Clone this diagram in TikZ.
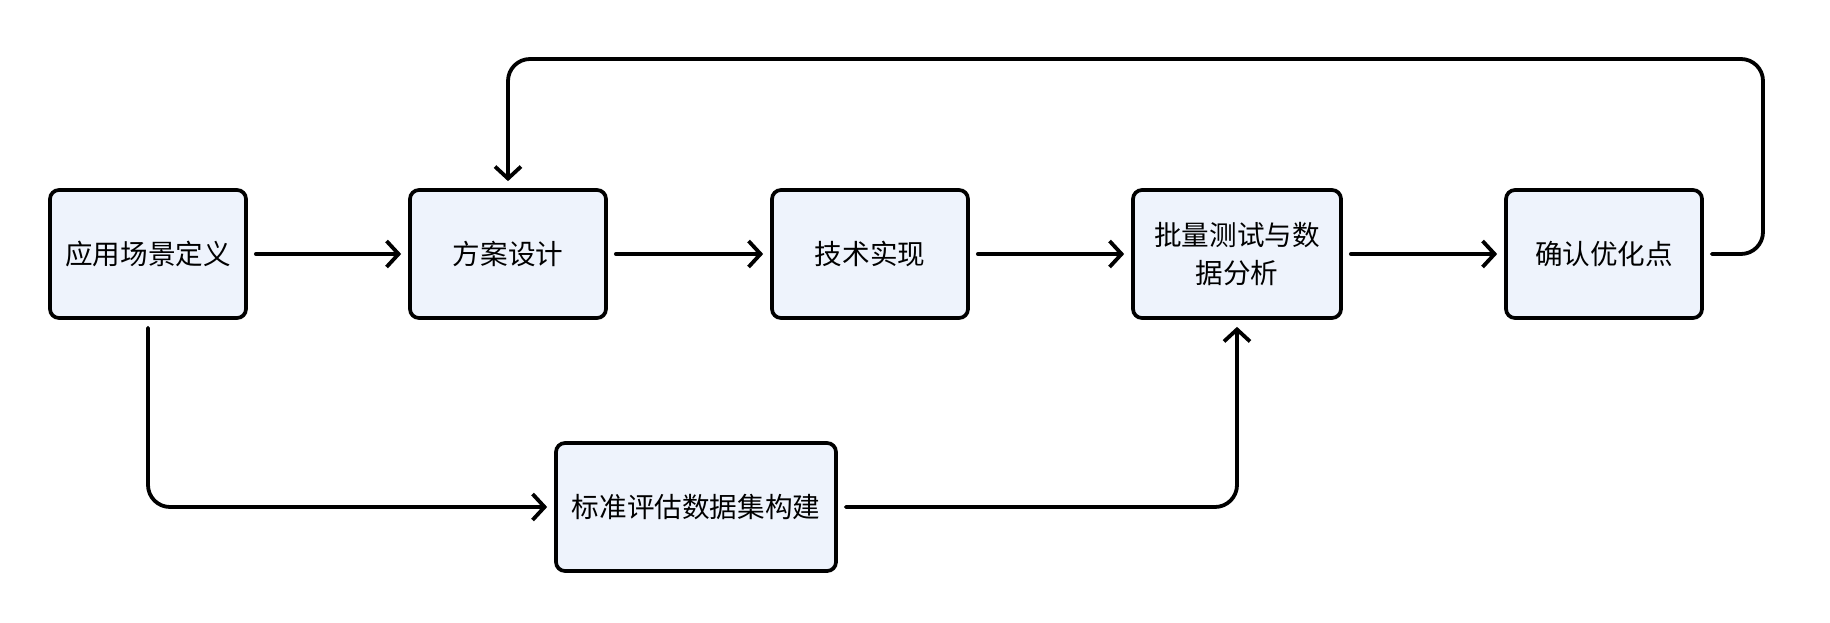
\documentclass[tikz,border=0pt]{standalone}
\usepackage{fontspec}
\setmainfont{Noto Sans CJK SC}
\usetikzlibrary{arrows.meta}
\definecolor{boxfill}{RGB}{238,243,252}
\tikzset{
  etape/.style={draw=black, line width=1.85pt, fill=boxfill, rounded corners=4.5pt,
    minimum width=98pt, minimum height=64pt, align=center, inner sep=2pt,
    font=\fontsize{13.8}{19}\selectfont},
  fleche/.style={draw=black, line width=1.9pt, line cap=round, rounded corners=11pt,
    -{Straight Barb[length=6pt,width=13pt,line width=1.9pt]},
    shorten <=4pt, shorten >=3.5pt},
}
\begin{document}
\begin{tikzpicture}  % ------ Processus d'evaluation -------------------
      [x=0.5pt,y=-0.5pt]

    \useasboundingbox (0,0) rectangle (1830,622);

    \node[etape] (scene) at (148,254) {应用场景定义};
    \node[etape] (plan)  at (508,254) {方案设计};
    \node[etape] (impl)  at (870,254) {技术实现};
    \node[etape, minimum width=104pt] (test) at (1237,254) {批量测试与数\\据分析};
    \node[etape] (optim) at (1604,254) {确认优化点};
    \node[etape, minimum width=140pt] (data) at (696,507) {标准评估数据集构建};

    \coordinate (haut) at (1763,59);

    \draw[fleche] (scene) -- (plan);
    \draw[fleche] (plan) -- (impl);
    \draw[fleche] (impl) -- (test);
    \draw[fleche] (test) -- (optim);
    \draw[fleche] (optim.east) -| (haut) -| (plan.north);  % retour
    \draw[fleche] (scene.south) |- (data.west);
    \draw[fleche] (data.east) -| (test.south);
\end{tikzpicture}
\end{document}
